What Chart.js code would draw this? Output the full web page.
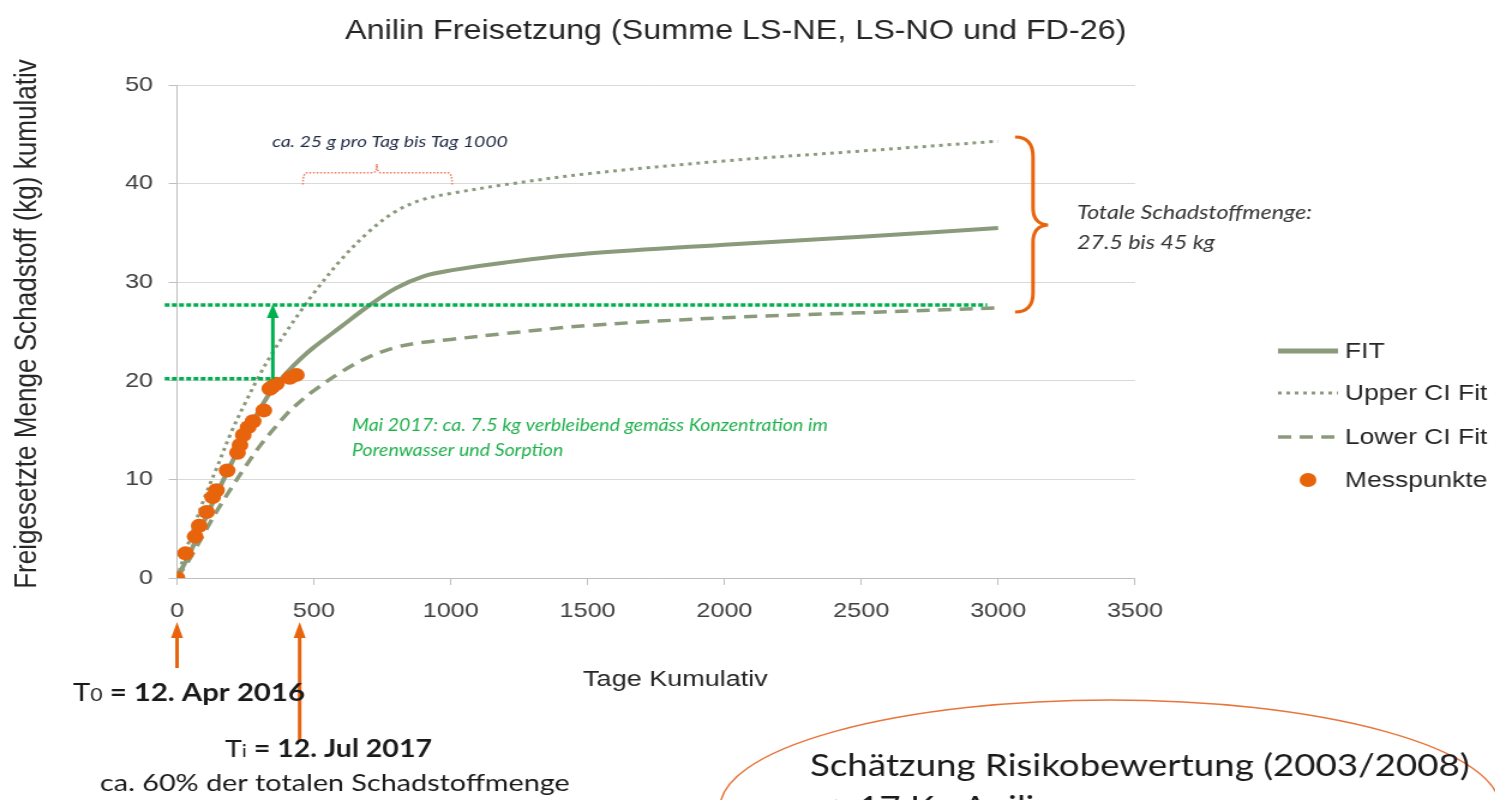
<!DOCTYPE html>
<html>
<head>
<meta charset="utf-8">
<script src="https://cdn.jsdelivr.net/npm/chart.js@4.4.1/dist/chart.umd.min.js"></script>
<style>
  html, body { margin: 0; padding: 0; background: #fff; overflow: hidden; }
  /* the source slide is stretched horizontally, so the whole chart is too */
  #wrap { width: 1246px; height: 800px; transform: scaleX(1.2); transform-origin: 0 0; }
</style>
</head>
<body>
<div id="wrap"><canvas id="anilin"></canvas></div>
<script>
// Kurven (Tage -> kg kumulativ)
var fitDays   = [0, 50, 100, 150, 200, 250, 300, 350, 400, 450, 500, 600, 700, 800, 900, 1000, 1200, 1500, 2000, 2500, 3000];
var fitVals   = [0, 2.7, 5.8, 8.8, 11.7, 14.4, 17.0, 19.2, 20.8, 22.2, 23.4, 25.5, 27.6, 29.4, 30.6, 31.2, 32.0, 32.9, 33.8, 34.6, 35.5];
var upperVals = [0, 4.2, 8.1, 11.5, 14.9, 17.8, 20.5, 22.9, 25.0, 27.0, 28.9, 32.3, 35.1, 37.2, 38.4, 39.0, 39.9, 41.0, 42.3, 43.3, 44.3];
var lowerVals = [0, 2.1, 4.6, 7.0, 9.2, 11.3, 13.3, 15.0, 16.6, 17.9, 19.0, 20.9, 22.4, 23.4, 23.9, 24.2, 24.8, 25.6, 26.4, 26.9, 27.4];

// Messpunkte
var messDays = [0, 31, 66, 81, 108, 130, 144, 183, 221, 230, 242, 260, 278, 317, 339, 348, 363, 412, 436];
var messVals = [0, 2.5, 4.2, 5.3, 6.7, 8.2, 8.9, 10.9, 12.7, 13.5, 14.5, 15.3, 15.9, 17.0, 19.2, 19.4, 19.7, 20.3, 20.6];

var seriesNames = ['FIT', 'Upper CI Fit', 'Lower CI Fit', 'Messpunkte'];

var S = 1.2; // horizontal stretch
var lineCol = '#8a9a7a';
var orange = '#e8640c';
var green = '#00b050';

function xy(days, vals) {
  return days.map(function (d, i) { return { x: d, y: vals[i] }; });
}
function px(v) { return v / S; } // visual x -> canvas x

function fitRuns(ctx, runs, fam, x1, x2, yc, color, fixedSize) {
  var total = 0;
  runs.forEach(function (r) {
    ctx.font = r[1] + ' ' + (100 * r[2]) + 'px ' + fam;
    total += ctx.measureText(r[0]).width;
  });
  var size = fixedSize || 100 * (px(x2) - px(x1)) / total;
  var x = px(x1);
  ctx.fillStyle = color;
  ctx.textBaseline = 'alphabetic';
  ctx.textAlign = 'left';
  runs.forEach(function (r) {
    ctx.font = r[1] + ' ' + (size * r[2]) + 'px ' + fam;
    ctx.fillText(r[0], x, yc + 0.36 * size);
    x += ctx.measureText(r[0]).width;
  });
  return size;
}

function arrowUp(ctx, x, yFrom, yTip, col, hw, hl) {
  ctx.save();
  ctx.setLineDash([]);
  ctx.strokeStyle = col; ctx.fillStyle = col; ctx.lineWidth = 3;
  ctx.beginPath(); ctx.moveTo(x, yFrom); ctx.lineTo(x, yTip + hl - 1); ctx.stroke();
  ctx.beginPath(); ctx.moveTo(x, yTip); ctx.lineTo(x - hw, yTip + hl); ctx.lineTo(x + hw, yTip + hl); ctx.closePath(); ctx.fill();
  ctx.restore();
}

var extras = {
  id: 'extras',
  afterDatasetsDraw: function (chart) {
    var ctx = chart.ctx;
    var X = function (d) { return chart.scales.x.getPixelForValue(d); };
    var Y = function (v) { return chart.scales.y.getPixelForValue(v); };
    ctx.save();

    // grüne Linien 27.7 und 20.2 kg
    ctx.strokeStyle = green; ctx.lineWidth = 3.5; ctx.setLineDash([4, 2]);
    ctx.beginPath(); ctx.moveTo(X(-45), Y(27.7)); ctx.lineTo(X(2960), Y(27.7)); ctx.stroke();
    ctx.beginPath(); ctx.moveTo(X(-45), Y(20.2)); ctx.lineTo(X(350), Y(20.2)); ctx.stroke();
    arrowUp(ctx, X(350), Y(20.2), Y(27.8), green, 5, 14);

    // kleine Klammer oben
    ctx.strokeStyle = '#f07a5a'; ctx.lineWidth = 1.5; ctx.setLineDash([1.5, 1.5]);
    var yb = Y(41.1);
    ctx.beginPath();
    ctx.moveTo(X(460), Y(39.9));
    ctx.quadraticCurveTo(X(460), yb, X(475), yb);
    ctx.lineTo(X(715), yb);
    ctx.quadraticCurveTo(X(730), yb, X(730), Y(42));
    ctx.quadraticCurveTo(X(730), yb, X(745), yb);
    ctx.lineTo(X(990), yb);
    ctx.quadraticCurveTo(X(1005), yb, X(1005), Y(39.9));
    ctx.stroke();

    // große Klammer rechts
    ctx.setLineDash([]); ctx.strokeStyle = orange; ctx.lineWidth = 3;
    ctx.beginPath();
    ctx.moveTo(px(1015), 137);
    ctx.quadraticCurveTo(px(1033), 137, px(1033), 157);
    ctx.lineTo(px(1033), 208);
    ctx.quadraticCurveTo(px(1033), 224, px(1048), 225);
    ctx.quadraticCurveTo(px(1033), 226, px(1033), 242);
    ctx.lineTo(px(1033), 293);
    ctx.quadraticCurveTo(px(1033), 312, px(1015), 312);
    ctx.stroke();

    // Pfeile T0 / Ti
    arrowUp(ctx, X(0), 668, 622, orange, 5, 16);
    arrowUp(ctx, X(448), 740, 622, orange, 5, 16);

    // Ellipse
    ctx.strokeStyle = '#e8743b'; ctx.lineWidth = 1.5;
    ctx.beginPath(); ctx.ellipse(px(1110), 808, px(390), 108, 0, 0, Math.PI * 2); ctx.stroke();

    // Texte
    fitRuns(ctx, [['Anilin Freisetzung (Summe LS-NE, LS-NO und FD-26)', 'normal', 1]], '"Liberation Sans"', 345, 1127, 29, '#262626');
    fitRuns(ctx, [['Tage Kumulativ', 'normal', 1]], '"Liberation Sans"', 583, 768, 678, '#262626');
    fitRuns(ctx, [['ca. 25 g pro Tag bis Tag 1000', 'italic', 1]], 'Lato', 272, 508, 141, '#1f2a44');
    var g = fitRuns(ctx, [['Mai 2017: ca. 7.5 kg verbleibend gemäss Konzentration im', 'italic', 1]], 'Lato', 352, 828, 425, '#1fb04c');
    fitRuns(ctx, [['Porenwasser und Sorption', 'italic', 1]], 'Lato', 352, 0, 450, '#1fb04c', g);
    var t = fitRuns(ctx, [['Totale Schadstoffmenge:', 'italic', 1]], 'Lato', 1077, 1312, 212, '#333333');
    fitRuns(ctx, [['27.5 bis 45 kg', 'italic', 1]], 'Lato', 1077, 0, 242, '#333333', t);
    fitRuns(ctx, [['T', 'normal', 1], ['0', 'normal', 0.72], [' = ', 'bold', 1], ['12. Apr 2016', 'bold', 1]], 'Lato', 73, 305, 692, '#1a1a1a');
    fitRuns(ctx, [['T', 'normal', 1], ['i', 'normal', 0.72], [' = ', 'bold', 1], ['12. Jul 2017', 'bold', 1]], 'Lato', 225, 432, 748, '#1a1a1a');
    fitRuns(ctx, [['ca. 60% der totalen Schadstoffmenge', 'normal', 1]], 'Lato', 100, 570, 782, '#1a1a1a');
    var e = fitRuns(ctx, [['Schätzung Risikobewertung (2003/2008)', 'normal', 1]], 'Lato', 810, 1470, 765, '#1a1a1a');
    fitRuns(ctx, [['→ 17 Kg Anilin', 'normal', 1]], 'Lato', 812, 0, 807, '#1a1a1a', e);

    // y-Achsentitel
    ctx.save();
    ctx.translate(px(27), 324);
    ctx.rotate(-Math.PI / 2);
    var yt = 'Freigesetzte Menge Schadstoff (kg) kumulativ';
    ctx.font = '100px "Liberation Sans"';
    var sz = 100 * 530 / ctx.measureText(yt).width;
    ctx.font = sz + 'px "Liberation Sans"';
    ctx.fillStyle = '#262626'; ctx.textAlign = 'center'; ctx.textBaseline = 'middle';
    ctx.fillText(yt, 0, 0);
    ctx.restore();

    // Legende
    var lx1 = px(1278), lx2 = px(1338), tx = px(1345);
    var rows = [351, 393, 437, 480];
    ctx.strokeStyle = lineCol;
    ctx.lineWidth = 5; ctx.setLineDash([]);
    ctx.beginPath(); ctx.moveTo(lx1, rows[0]); ctx.lineTo(lx2, rows[0]); ctx.stroke();
    ctx.lineWidth = 3; ctx.setLineDash([3, 4]);
    ctx.beginPath(); ctx.moveTo(lx1, rows[1]); ctx.lineTo(lx2, rows[1]); ctx.stroke();
    ctx.lineWidth = 3.5; ctx.setLineDash([11, 7]);
    ctx.beginPath(); ctx.moveTo(lx1, rows[2]); ctx.lineTo(lx2, rows[2]); ctx.stroke();
    ctx.setLineDash([]);
    ctx.fillStyle = orange;
    ctx.beginPath(); ctx.arc(px(1308), rows[3], 7, 0, Math.PI * 2); ctx.fill();
    ctx.fillStyle = '#262626'; ctx.font = '22px "Liberation Sans"';
    ctx.textAlign = 'left'; ctx.textBaseline = 'middle';
    seriesNames.forEach(function (n, i) { ctx.fillText(n, tx, rows[i] + 1); });

    ctx.restore();
  }
};

var tickFont = { family: '"Liberation Sans"', size: 21 };

new Chart(document.getElementById('anilin'), {
  type: 'line',
  data: {
    datasets: [{
      label: seriesNames[3],
      data: xy(messDays, messVals),
      showLine: false,
      pointRadius: 7,
      pointBackgroundColor: orange,
      pointBorderWidth: 0
    }, {
      label: seriesNames[0],
      data: xy(fitDays, fitVals),
      borderColor: lineCol,
      borderWidth: 4,
      pointRadius: 0,
      tension: 0.35
    }, {
      label: seriesNames[1],
      data: xy(fitDays, upperVals),
      borderColor: lineCol,
      borderWidth: 3,
      borderDash: [3, 4],
      pointRadius: 0,
      tension: 0.35
    }, {
      label: seriesNames[2],
      data: xy(fitDays, lowerVals),
      borderColor: lineCol,
      borderWidth: 3.5,
      borderDash: [11, 7],
      pointRadius: 0,
      tension: 0.35
    }]
  },
  options: {
    responsive: true,
    maintainAspectRatio: false,
    animation: false,
    layout: { padding: { left: 0, right: 300.2, top: 85, bottom: 0 } },
    plugins: { legend: { display: false }, title: { display: false }, tooltip: { enabled: false } },
    scales: {
      x: {
        type: 'linear',
        min: 0, max: 3500,
        afterFit: function (s) { s.height = 222; },
        ticks: { stepSize: 500, font: tickFont, color: '#404040', padding: 14, maxRotation: 0,
                 callback: function (v) { return String(v); } },
        grid: { drawOnChartArea: false, tickLength: 7, tickColor: '#bfbfbf' },
        border: { color: '#bfbfbf' }
      },
      y: {
        min: 0, max: 50,
        afterFit: function (s) { s.width = 147.5; },
        ticks: { stepSize: 10, font: tickFont, color: '#404040', padding: 13 },
        grid: { color: '#d9d9d9', tickLength: 7, tickColor: '#bfbfbf' },
        border: { color: '#bfbfbf' }
      }
    }
  },
  plugins: [extras]
});
</script>
</body>
</html>
